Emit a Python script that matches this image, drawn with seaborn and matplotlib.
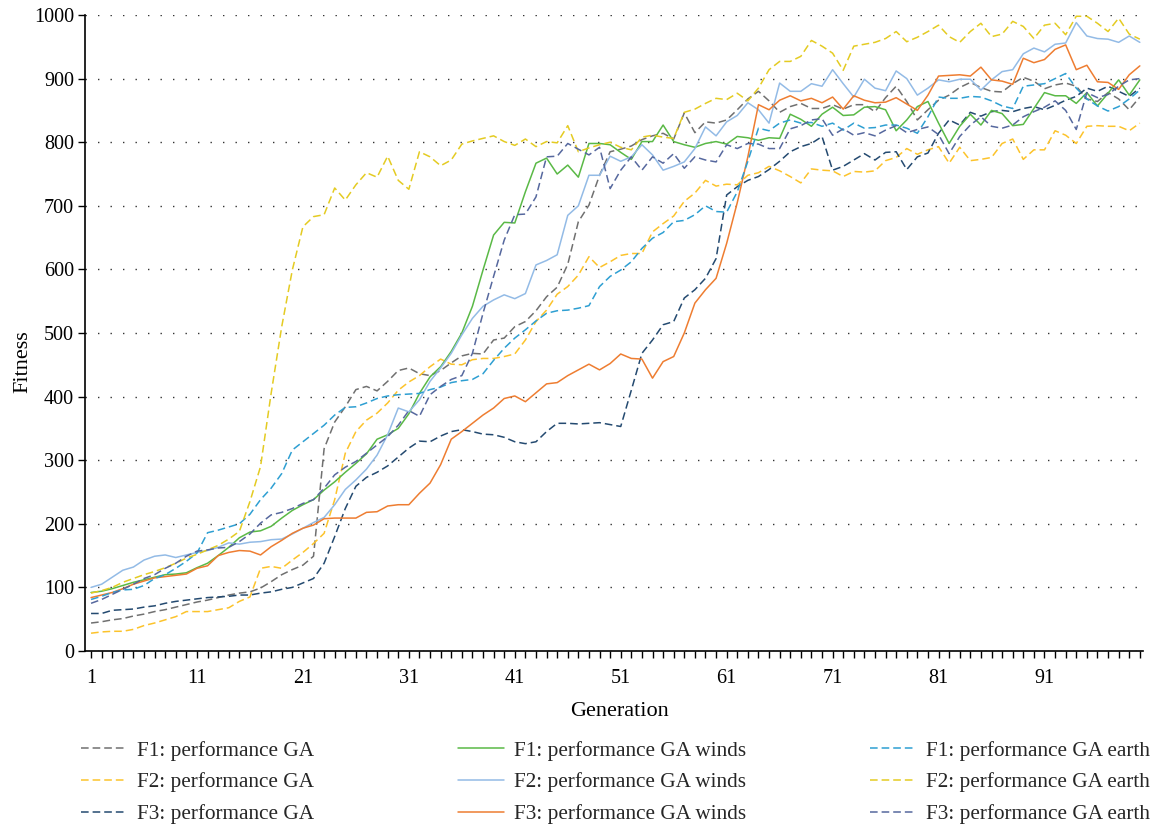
import matplotlib
matplotlib.use("Agg")
import matplotlib.pyplot as plt
from matplotlib.lines import Line2D
import seaborn as sns

generations = list(range(1, 101))

f1_ga = [44, 46, 49, 51, 55, 58, 62, 65, 69, 73,
         77, 80, 84, 88, 91, 93, 99, 109, 120, 128,
         135, 149, 318, 360, 384, 411, 416, 409, 424, 441,
         445, 436, 433, 441, 453, 464, 468, 467, 489, 492,
         510, 518, 535, 557, 572, 608, 675, 701, 748, 785,
         789, 794, 804, 810, 814, 805, 846, 815, 832, 830,
         835, 851, 868, 880, 865, 847, 856, 861, 853, 853,
         859, 852, 859, 859, 848, 870, 888, 864, 835, 851,
         866, 874, 886, 894, 886, 880, 879, 892, 902, 896,
         884, 890, 893, 888, 868, 864, 878, 868, 851, 871]

f2_ga = [28, 30, 31, 31, 34, 40, 44, 49, 54, 62,
         62, 62, 65, 68, 78, 85, 130, 133, 130, 143,
         155, 169, 185, 238, 311, 345, 363, 374, 390, 410,
         423, 433, 447, 459, 451, 450, 458, 460, 460, 463,
         467, 489, 518, 536, 561, 573, 591, 620, 603, 612,
         622, 625, 625, 659, 672, 684, 707, 720, 740, 731,
         734, 733, 748, 752, 762, 755, 746, 736, 758, 756,
         755, 746, 754, 753, 755, 771, 776, 790, 781, 788,
         793, 767, 792, 771, 773, 776, 798, 805, 773, 788,
         788, 818, 811, 798, 825, 826, 825, 825, 818, 830]

f3_ga = [59, 59, 64, 65, 66, 69, 71, 75, 78, 80,
         82, 84, 85, 86, 88, 88, 91, 93, 97, 100,
         107, 114, 138, 180, 224, 259, 273, 281, 291, 305,
         319, 330, 329, 338, 345, 348, 345, 341, 340, 336,
         329, 326, 329, 345, 358, 358, 357, 358, 359, 356,
         353, 410, 468, 489, 513, 518, 555, 568, 586, 617,
         717, 730, 740, 746, 757, 770, 785, 793, 798, 809,
         756, 762, 772, 782, 772, 784, 785, 757, 777, 783,
         814, 835, 827, 847, 841, 848, 850, 848, 853, 856,
         851, 858, 866, 872, 885, 880, 888, 880, 872, 885]

f1_winds = [92, 94, 98, 103, 108, 112, 116, 120, 121, 123,
            131, 138, 150, 163, 178, 187, 189, 196, 209, 221,
            230, 238, 253, 266, 281, 295, 310, 333, 340, 350,
            373, 405, 431, 447, 471, 500, 542, 599, 654, 674,
            673, 722, 767, 775, 750, 764, 745, 798, 798, 796,
            784, 773, 801, 801, 827, 801, 796, 792, 798, 801,
            797, 809, 807, 803, 807, 806, 844, 836, 825, 844,
            855, 842, 843, 855, 856, 851, 818, 835, 856, 864,
            830, 798, 825, 844, 827, 850, 845, 826, 828, 853,
            878, 873, 873, 861, 878, 857, 877, 898, 874, 898]

f2_winds = [100, 105, 116, 127, 132, 143, 149, 151, 147, 151,
            155, 158, 163, 170, 168, 171, 172, 175, 176, 184,
            193, 202, 210, 230, 254, 269, 286, 308, 340, 382,
            376, 395, 424, 445, 468, 497, 523, 542, 552, 560,
            554, 562, 607, 614, 623, 685, 700, 748, 748, 778,
            770, 777, 796, 780, 756, 762, 769, 790, 824, 810,
            832, 842, 862, 851, 830, 893, 880, 880, 892, 888,
            914, 892, 871, 899, 885, 881, 912, 900, 874, 885,
            898, 895, 899, 899, 882, 898, 911, 914, 939, 948,
            942, 954, 956, 988, 967, 963, 962, 957, 967, 957]

f3_winds = [84, 88, 92, 98, 105, 110, 115, 117, 119, 121,
            130, 134, 150, 155, 158, 157, 151, 164, 174, 185,
            193, 198, 208, 209, 209, 209, 218, 219, 228, 230,
            230, 248, 264, 293, 333, 345, 358, 371, 382, 397,
            401, 392, 406, 420, 422, 433, 442, 451, 442, 452,
            467, 460, 459, 429, 455, 463, 500, 547, 568, 586,
            641, 705, 777, 859, 851, 866, 873, 865, 869, 862,
            871, 852, 873, 866, 862, 863, 870, 860, 850, 874,
            904, 905, 906, 904, 918, 898, 896, 891, 932, 925,
            930, 946, 953, 914, 921, 895, 894, 883, 906, 920]

f1_earth = [81, 86, 92, 96, 97, 103, 114, 120, 130, 141,
            154, 186, 190, 195, 200, 215, 238, 256, 279, 316,
            329, 342, 355, 371, 383, 384, 390, 397, 401, 403,
            404, 405, 411, 415, 422, 425, 427, 436, 457, 476,
            492, 505, 519, 531, 535, 536, 539, 543, 573, 589,
            599, 612, 633, 649, 658, 675, 677, 686, 700, 691,
            690, 722, 770, 822, 818, 830, 835, 830, 831, 825,
            830, 819, 830, 822, 823, 827, 827, 822, 814, 840,
            871, 869, 869, 872, 871, 865, 857, 853, 888, 890,
            892, 900, 908, 885, 868, 857, 849, 856, 868, 882]

f2_earth = [91, 95, 100, 108, 114, 120, 125, 131, 138, 146,
            152, 159, 166, 176, 188, 235, 290, 405, 510, 599,
            667, 683, 686, 728, 709, 733, 752, 745, 778, 740,
            726, 785, 777, 763, 772, 797, 802, 806, 810, 801,
            795, 805, 793, 801, 799, 826, 785, 791, 796, 800,
            792, 788, 808, 811, 808, 806, 847, 852, 861, 869,
            867, 877, 865, 885, 914, 927, 927, 935, 960, 951,
            940, 913, 951, 954, 957, 963, 974, 958, 965, 974,
            984, 966, 957, 974, 987, 966, 970, 990, 982, 963,
            984, 987, 969, 998, 998, 987, 974, 995, 970, 962]

f3_earth = [75, 81, 89, 97, 105, 114, 120, 130, 138, 149,
            157, 159, 162, 163, 172, 184, 201, 214, 218, 224,
            232, 238, 256, 277, 289, 298, 311, 324, 337, 355,
            378, 369, 403, 416, 427, 433, 468, 531, 589, 646,
            686, 687, 714, 777, 778, 798, 789, 780, 792, 727,
            756, 777, 756, 777, 767, 782, 759, 777, 772, 769,
            796, 790, 798, 797, 790, 790, 821, 826, 835, 837,
            811, 821, 811, 815, 810, 819, 826, 815, 820, 824,
            812, 782, 809, 827, 840, 825, 822, 827, 840, 848,
            855, 865, 850, 820, 878, 870, 875, 888, 898, 900]

y_ticks = list(range(0, 1001, 100))
x_tick_labels = [str(g) if (g - 1) % 10 == 0 else "" for g in generations]

DASH = (0, (5, 2.6))
SOLID = "-"

series = [
    ("F1: performance GA", f1_ga, "#707070", DASH),
    ("F2: performance GA", f2_ga, "#fcc32b", DASH),
    ("F3: performance GA", f3_ga, "#244a70", DASH),
    ("F1: performance GA winds", f1_winds, "#5ab946", SOLID),
    ("F2: performance GA winds", f2_winds, "#93bbe6", SOLID),
    ("F3: performance GA winds", f3_winds, "#ee7d31", SOLID),
    ("F1: performance GA earth", f1_earth, "#2e9fd2", DASH),
    ("F2: performance GA earth", f2_earth, "#e4cb22", DASH),
    ("F3: performance GA earth", f3_earth, "#56689e", DASH),
]

sns.set_theme(style="white")
plt.rcParams["font.family"] = ["Liberation Serif", "DejaVu Serif"]

W, H = 1155, 827
fig = plt.figure(figsize=(W / 100, H / 100), dpi=100)
ax = fig.add_axes([85 / W, 1 - 651 / H, (1143 - 85) / W, (651 - 15) / H])

for label, vals, color, ls in series:
    sns.lineplot(x=generations, y=vals, ax=ax, color=color, linestyle=ls,
                 linewidth=1.1, legend=False)

ax.set_xlim(0.43, 100.3)
ax.set_ylim(0, 1000)
ax.set_yticks(y_ticks)
ax.set_xticks(generations)
ax.set_xticklabels(x_tick_labels)

ax.yaxis.grid(True, linestyle=(0, (1, 8)), color="#333333", linewidth=1.0)
ax.xaxis.grid(False)
for side in ("top", "right"):
    ax.spines[side].set_visible(False)
for side in ("left", "bottom"):
    ax.spines[side].set_color("black")
    ax.spines[side].set_linewidth(1.2)

ax.tick_params(axis="both", which="major", bottom=True, left=True,
               direction="out", length=5, width=1.0, color="black",
               labelsize=14.5, labelcolor="black")
ax.tick_params(axis="x", pad=8)
ax.tick_params(axis="y", pad=3)

ax.set_xlabel("Generation", fontsize=16, color="black")
ax.set_ylabel("Fitness", fontsize=16, color="black")
ax.xaxis.set_label_coords(0.505, -0.08)
ax.yaxis.set_label_coords(-0.05, 0.455)

handles = [Line2D([], [], color=c, linestyle=ls, linewidth=1.1)
           for _, _, c, ls in series]
labels = [s[0] for s in series]
col_x = [81, 458, 870]
for i, x in enumerate(col_x):
    fig.legend(handles[3 * i:3 * i + 3], labels[3 * i:3 * i + 3],
               loc="upper left", bbox_to_anchor=(x / W, 1 - 741 / H),
               frameon=False, fontsize=15.3, handlelength=2.15,
               handletextpad=0.47, labelspacing=0.55,
               borderpad=0, borderaxespad=0)

fig.savefig("out.png", dpi=100)
